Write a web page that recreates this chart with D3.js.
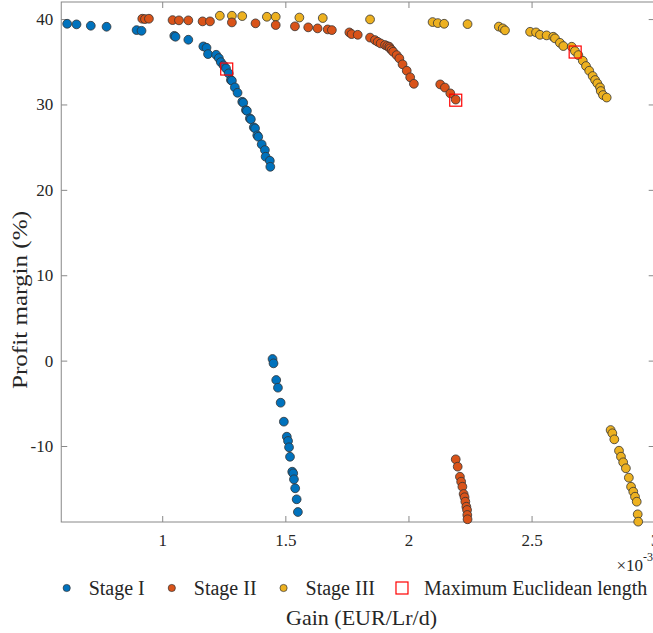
<!DOCTYPE html>
<html>
<head>
<meta charset="utf-8">
<script src="https://cdn.jsdelivr.net/npm/d3@7"></script>
<style>
  body { margin: 0; background: #fff; }
  svg { display: block; font-family: "Liberation Serif", "Times New Roman", serif; }
</style>
</head>
<body>
<svg width="653" height="633"></svg>
<script>
"use strict";

// data (x in 1e-3 EUR/Lr/d, y in %)
const stage1 = [
  [0.614, 39.45], [0.652, 39.38], [0.710, 39.22], [0.774, 39.10], [0.896, 38.71], [0.916, 38.63],
  [1.049, 38.04], [1.054, 37.93], [1.106, 37.58], [1.167, 36.80], [1.180, 36.64], [1.186, 35.90],
  [1.219, 35.82], [1.230, 35.43], [1.238, 34.96], [1.249, 34.58], [1.259, 34.23], [1.270, 33.64],
  [1.279, 32.86], [1.283, 32.78], [1.295, 32.00], [1.306, 31.37], [1.325, 30.32], [1.329, 30.20],
  [1.340, 29.34], [1.344, 29.26], [1.356, 28.37], [1.360, 28.26], [1.372, 27.32], [1.377, 27.20],
  [1.386, 26.38], [1.390, 26.22], [1.404, 25.33], [1.417, 24.66], [1.420, 23.88], [1.437, 23.41],
  [1.439, 22.70],
  [1.448, 0.19], [1.452, -0.32], [1.463, -2.27], [1.470, -3.17], [1.481, -4.93], [1.494, -7.15],
  [1.506, -8.91], [1.511, -9.41], [1.515, -10.15], [1.519, -11.26], [1.528, -13.01], [1.532, -13.20],
  [1.535, -13.90], [1.540, -14.95], [1.546, -16.24], [1.551, -17.73]
];
const stage2 = [
  [0.919, 40.04], [0.930, 40.00], [0.946, 40.04], [1.042, 39.88], [1.068, 39.85], [1.106, 39.85],
  [1.164, 39.73], [1.194, 39.73], [1.283, 39.61], [1.379, 39.50], [1.461, 39.30], [1.539, 39.15],
  [1.593, 39.03], [1.631, 38.91], [1.672, 38.79], [1.689, 38.71], [1.760, 38.44], [1.769, 38.24],
  [1.794, 38.16], [1.844, 37.83], [1.864, 37.54], [1.875, 37.34], [1.887, 37.15], [1.905, 36.96],
  [1.914, 36.84], [1.922, 36.76], [1.925, 36.57], [1.932, 36.37], [1.938, 36.17], [1.952, 35.78],
  [1.963, 35.40], [1.976, 34.70], [1.993, 33.95], [2.007, 33.18], [2.022, 32.42], [2.129, 32.35],
  [2.148, 31.98], [2.170, 31.30], [2.192, 30.57],
  [2.192, -11.56], [2.200, -12.42], [2.209, -13.60], [2.214, -14.18], [2.219, -14.77], [2.224, -15.62],
  [2.228, -16.00], [2.231, -16.52], [2.235, -17.11], [2.238, -17.49], [2.239, -18.08], [2.240, -18.58]
];
const stage3 = [
  [1.234, 40.39], [1.283, 40.39], [1.325, 40.35], [1.425, 40.27], [1.461, 40.27], [1.557, 40.18],
  [1.652, 40.12], [1.844, 39.96], [2.098, 39.65], [2.119, 39.53], [2.145, 39.45], [2.240, 39.41],
  [2.367, 39.12], [2.383, 38.91], [2.392, 38.68], [2.494, 38.51], [2.518, 38.44], [2.534, 38.16],
  [2.561, 38.09], [2.588, 37.93], [2.595, 37.74], [2.615, 37.22], [2.629, 36.84], [2.663, 36.76],
  [2.676, 36.25], [2.690, 35.78], [2.708, 35.12], [2.721, 34.50], [2.734, 33.95], [2.748, 33.33],
  [2.758, 32.86], [2.767, 32.47], [2.778, 32.00], [2.781, 31.57], [2.790, 31.10], [2.805, 30.81],
  [2.821, -8.13], [2.828, -8.51], [2.836, -9.22], [2.855, -10.55], [2.863, -11.25], [2.872, -11.91],
  [2.883, -12.61], [2.895, -13.71], [2.904, -14.77], [2.913, -15.35], [2.920, -15.94], [2.927, -16.52],
  [2.931, -18.00], [2.933, -18.86]
];
// maximum Euclidean length points
const maxEuclid = [[1.262, 34.15], [2.192, 30.50], [2.677, 36.14]];

const xTicks = [1, 1.5, 2, 2.5, 3];
const yTicks = [-10, 0, 10, 20, 30, 40];
const seriesNames = ["Stage I", "Stage II", "Stage III", "Maximum Euclidean length"];
const seriesColors = ["#0072BD", "#D95319", "#EDB120", "#FF0000"];

const svg = d3.select("svg");
const pLeft = 61.25, pRight = 654.7, pTop = 2, pBottom = 522;

const x = d3.scaleLinear().domain([0.59, 3]).range([pLeft, pRight]);
const y = d3.scaleLinear().domain([-18.9, 42]).range([pBottom, pTop]);

const axisColor = "#888";
const textColor = "#262626";

// axes (ticks pointing inward, box on)
const gx = svg.append("g").attr("transform", `translate(0,${pBottom})`)
  .call(d3.axisBottom(x).tickValues(xTicks).tickSize(-6).tickPadding(12).tickFormat(d => String(d)));
const gxTop = svg.append("g").attr("transform", `translate(0,${pTop})`)
  .call(d3.axisTop(x).tickValues(xTicks).tickSize(-6).tickFormat(""));
const gy = svg.append("g").attr("transform", `translate(${pLeft},0)`)
  .call(d3.axisLeft(y).tickValues(yTicks).tickSize(-6).tickPadding(8).tickFormat(d => String(d)));
const gyRight = svg.append("g").attr("transform", `translate(${pRight},0)`)
  .call(d3.axisRight(y).tickValues(yTicks).tickSize(-6).tickFormat(""));

[gx, gxTop, gy, gyRight].forEach(g => {
  g.attr("font-family", null);
  g.select(".domain").remove();
  g.selectAll("line").attr("stroke", axisColor);
  g.selectAll("text").attr("fill", textColor).style("font-size", "17px")
    .style("font-family", "'Liberation Serif', 'Times New Roman', serif");
});

svg.append("rect")
  .attr("x", pLeft).attr("y", pTop)
  .attr("width", pRight - pLeft).attr("height", pBottom - pTop)
  .attr("fill", "none").attr("stroke", axisColor).attr("stroke-width", 1);

// exponent label
const expo = svg.append("text")
  .attr("x", 653).attr("y", 571)
  .attr("text-anchor", "end")
  .attr("fill", textColor)
  .style("font-size", "17px");
expo.append("tspan").text("×10");
expo.append("tspan").attr("dy", -10).style("font-size", "12px").text("-3");

// points
const plot = svg.append("g");
[stage3, stage2, stage1].forEach((pts, k) => {
  const color = seriesColors[2 - k];
  plot.append("g").selectAll("circle")
    .data(pts)
    .join("circle")
    .attr("cx", d => x(d[0]))
    .attr("cy", d => y(d[1]))
    .attr("r", 4.4)
    .attr("fill", color)
    .attr("stroke", "#333")
    .attr("stroke-width", 0.8);
});

const sq = 12;
plot.append("g").selectAll("rect")
  .data(maxEuclid)
  .join("rect")
  .attr("x", d => x(d[0]) - sq / 2)
  .attr("y", d => y(d[1]) - sq / 2)
  .attr("width", sq).attr("height", sq)
  .attr("fill", "none")
  .attr("stroke", seriesColors[3])
  .attr("stroke-width", 1.2);

// legend (below the axis, no box)
const legendY = 588;
let lx = 66.7;
seriesNames.forEach((name, i) => {
  if (i < 3) {
    svg.append("circle").attr("cx", lx).attr("cy", legendY).attr("r", 3.6)
      .attr("fill", seriesColors[i]).attr("stroke", "#333").attr("stroke-width", 0.7);
  } else {
    svg.append("rect").attr("x", lx - 6).attr("y", legendY - 6).attr("width", 12).attr("height", 12)
      .attr("fill", "none").attr("stroke", seriesColors[3]).attr("stroke-width", 1.2);
  }
  const t = svg.append("text")
    .attr("x", lx + 22).attr("y", legendY + 7)
    .attr("fill", textColor)
    .style("font-size", "20px")
    .text(name);
  lx = lx + 22 + t.node().getComputedTextLength() + 27;
});

// axis labels
svg.append("text")
  .attr("x", 361.5).attr("y", 625)
  .attr("text-anchor", "middle")
  .attr("fill", textColor)
  .style("font-size", "22px")
  .text("Gain (EUR/Lr/d)");

svg.append("text")
  .attr("transform", "translate(27,300) rotate(-90)")
  .attr("text-anchor", "middle")
  .attr("fill", textColor)
  .attr("textLength", 178)
  .attr("lengthAdjust", "spacingAndGlyphs")
  .style("font-size", "21px")
  .text("Profit margin (%)");
</script>
</body>
</html>
